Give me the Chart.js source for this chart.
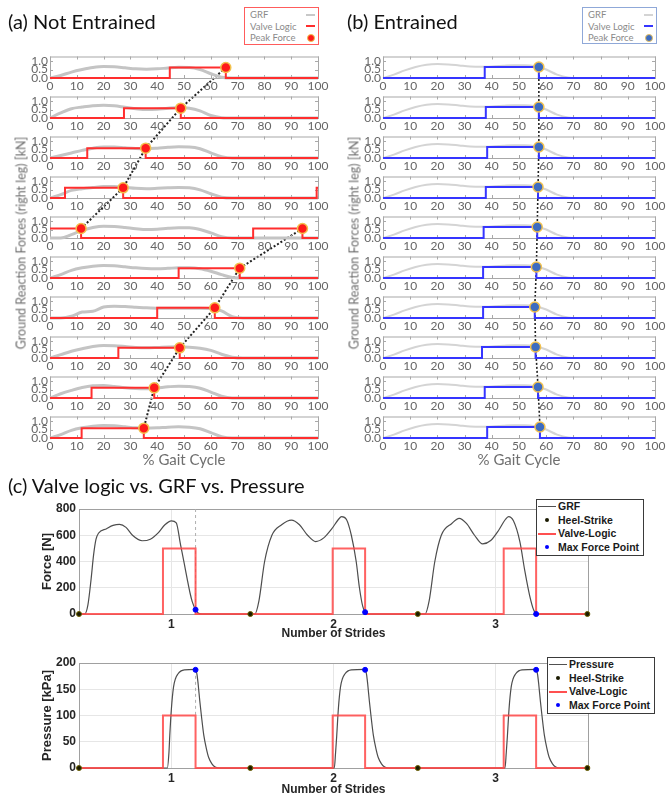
<!DOCTYPE html>
<html lang="en">
<head>
<meta charset="utf-8">
<title>Valve logic vs GRF vs Pressure</title>
<script src="https://cdn.jsdelivr.net/npm/chart.js@4.4.1/dist/chart.umd.min.js"></script>
<style>
  body { margin:0; width:667px; height:797px; position:relative; overflow:hidden; background:#fff; font-family:Lato, sans-serif; }
  canvas { position:absolute; }
  .txt { position:absolute; white-space:nowrap; }
  .titulo { font-family:Lato, sans-serif; font-size:20px; color:#111; }
  .ylab { color:#6f6f6f; font-size:12.5px; transform:translate(-50%,-50%) rotate(-90deg); }
  .xlab { color:#6f6f6f; font-size:15px; transform:translate(-50%,-50%); }
  .ley { position:absolute; z-index:5; background:#fff; box-sizing:border-box; font-size:9.5px; color:#8a8a8a; line-height:11.5px; padding:1px 3px 0 5px; }
  .ley div { display:flex; justify-content:space-between; align-items:center; }
  .lin { display:inline-block; width:9px; height:2px; }
  .pto { display:inline-block; width:8px; height:8px; border-radius:50%; box-sizing:border-box; }
  .leyC { position:absolute; z-index:5; background:#fff; border:1px solid #3a3a3a; box-sizing:border-box; font:bold 10.5px "Liberation Sans", Arial, sans-serif; color:#1a1a1a; line-height:13.5px; padding:0 4px 0 0; white-space:nowrap; }
  .leyC div { display:flex; align-items:center; }
  .sim { display:inline-flex; width:20px; height:13px; justify-content:center; align-items:center; margin-right:1px; }
  .sim .l { display:block; width:18px; }
  .sim .p { display:block; width:4px; height:4px; border-radius:50%; }
</style>
</head>
<body>
<canvas id="union" width="667" height="797" style="left:0;top:0"></canvas>

<div class="txt titulo" style="left:8px;top:9px">(a) Not Entrained</div>
<div class="txt titulo" style="left:347px;top:9px">(b) Entrained</div>
<div class="txt titulo" style="left:8px;top:473px">(c) Valve logic vs. GRF vs. Pressure</div>

<div class="txt ylab" style="left:21px;top:243px">Ground Reaction Forces (right leg) [kN]</div>
<div class="txt ylab" style="left:354px;top:243px">Ground Reaction Forces (right leg) [kN]</div>
<div class="txt xlab" style="left:184px;top:459px">% Gait Cycle</div>
<div class="txt xlab" style="left:519px;top:459px">% Gait Cycle</div>

<div class="ley" style="left:244px;top:7px;width:75px;height:38px;border:1.5px solid #ff5c5c">
  <div><span>GRF</span><span class="lin" style="background:#c8c8c8"></span></div>
  <div><span>Valve Logic</span><span class="lin" style="background:#ff2e2e"></span></div>
  <div><span>Peak Force</span><span class="pto" style="background:#ff1a1a;border:1px solid #f2c14e"></span></div>
</div>
<div class="ley" style="left:582px;top:7px;width:75px;height:37px;border:1.5px solid #8fa8d8">
  <div><span>GRF</span><span class="lin" style="background:#d4d4d4"></span></div>
  <div><span>Valve Logic</span><span class="lin" style="background:#3535ff"></span></div>
  <div><span>Peak Force</span><span class="pto" style="background:#3d6cc0;border:1px solid #e8c060"></span></div>
</div>

<div class="leyC" style="left:536px;top:499px;height:57px">
  <div><span class="sim"><i class="l" style="background:#505050;height:1px"></i></span>GRF</div>
  <div><span class="sim"><i class="p" style="background:#1a1a00"></i></span>Heel-Strike</div>
  <div><span class="sim"><i class="l" style="background:#ff5050;height:2px"></i></span>Valve-Logic</div>
  <div><span class="sim"><i class="p" style="background:#0000ff"></i></span>Max Force Point</div>
</div>
<div class="leyC" style="left:547px;top:657px;height:57px">
  <div><span class="sim"><i class="l" style="background:#505050;height:1px"></i></span>Pressure</div>
  <div><span class="sim"><i class="p" style="background:#1a1a00"></i></span>Heel-Strike</div>
  <div><span class="sim"><i class="l" style="background:#ff5050;height:2px"></i></span>Valve-Logic</div>
  <div><span class="sim"><i class="p" style="background:#0000ff"></i></span>Max Force Point</div>
</div>

<script>
// ---------------- datos de las gráficas pequeñas (% ciclo de marcha) ----------------
const gaitTicks = [0, 10, 20, 30, 40, 50, 60, 70, 80, 90, 100];
const smallYTicks = [0, 0.5, 1.0];
const grfPct = [0, 4, 8, 12, 16, 20, 24, 28, 32, 36, 40, 44, 48, 52, 56, 60, 64, 68, 72, 100];

// (a) Not Entrained - GRF de cada zancada [kN]
const grfA1 = [0, 0.15, 0.35, 0.5, 0.62, 0.68, 0.66, 0.6, 0.54, 0.52, 0.54, 0.59, 0.63, 0.62, 0.5, 0.25, 0.05, 0, 0, 0];
const grfA2 = [0, 0.3, 0.55, 0.65, 0.73, 0.75, 0.72, 0.63, 0.55, 0.5, 0.52, 0.58, 0.62, 0.58, 0.42, 0.15, 0.02, 0, 0, 0];
const grfA3 = [0, 0.15, 0.3, 0.45, 0.58, 0.65, 0.65, 0.6, 0.56, 0.55, 0.58, 0.63, 0.66, 0.65, 0.55, 0.3, 0.08, 0, 0, 0];
const grfA4 = [0, 0.2, 0.45, 0.55, 0.62, 0.68, 0.68, 0.63, 0.57, 0.55, 0.57, 0.6, 0.62, 0.6, 0.48, 0.25, 0.05, 0, 0, 0];
const grfA5 = [0, 0, 0.2, 0.45, 0.62, 0.7, 0.68, 0.62, 0.55, 0.5, 0.52, 0.57, 0.6, 0.6, 0.5, 0.3, 0.08, 0, 0, 0];
const grfA6 = [0, 0.2, 0.45, 0.6, 0.7, 0.74, 0.72, 0.66, 0.6, 0.56, 0.55, 0.57, 0.6, 0.6, 0.55, 0.4, 0.2, 0.03, 0, 0];
const grfA7 = [0, 0, 0.1, 0.35, 0.4, 0.65, 0.7, 0.68, 0.64, 0.6, 0.58, 0.57, 0.57, 0.57, 0.57, 0.56, 0.42, 0.08, 0, 0];
const grfA8 = [0, 0.2, 0.4, 0.55, 0.68, 0.74, 0.73, 0.68, 0.62, 0.6, 0.62, 0.65, 0.66, 0.64, 0.58, 0.45, 0.22, 0.05, 0, 0];
const grfA9 = [0, 0.25, 0.45, 0.62, 0.72, 0.74, 0.68, 0.6, 0.56, 0.55, 0.6, 0.66, 0.7, 0.68, 0.58, 0.35, 0.1, 0, 0, 0];
const grfA10 = [0, 0.2, 0.45, 0.6, 0.7, 0.74, 0.72, 0.66, 0.6, 0.58, 0.6, 0.64, 0.66, 0.64, 0.55, 0.32, 0.08, 0, 0, 0];
// tramos [inicio, fin] en que la válvula está abierta
const valveA = [
  [[44.7, 65.6]], [[27.6, 48.8]], [[13.9, 35.7]], [[5.6, 27.3], [99.5, 100]], [[0, 11.6], [75.8, 94.2]],
  [[48, 70.8]], [[40, 61.5]], [[25.5, 48.4]], [[15.5, 38.9]], [[11.8, 35]]
];
const levelA = [0.62, 0.58, 0.58, 0.6, 0.56, 0.58, 0.6, 0.6, 0.6, 0.58];
const peakA = [[65.6], [48.8], [35.7], [27.3], [11.6, 94.2], [70.8], [61.5], [48.4], [38.9], [35]];
// orden en que la línea punteada une los picos: [fila, punto]
const cadenaA = [[[0, 0], [1, 0], [2, 0], [3, 0], [4, 0]], [[4, 1], [5, 0], [6, 0], [7, 0], [8, 0], [9, 0]]];

// (b) Entrained
const grfB = [0, 0.2, 0.45, 0.65, 0.78, 0.82, 0.8, 0.74, 0.68, 0.66, 0.68, 0.72, 0.76, 0.76, 0.7, 0.5, 0.2, 0.03, 0, 0];
const valveOnB = [37.4, 37.8, 38.3, 37.8, 37, 36.8, 36.8, 36.4, 37.4, 38.3];
const valveOffB = [57.3, 57.3, 57.3, 57, 56.7, 56.4, 55.8, 56.1, 57, 57.7];
const levelB = 0.65;

// ---------------- datos de (c) ----------------
const strideTicks = [1, 2, 3];
const forceTicks = [0, 200, 400, 600, 800];
const pressureTicks = [0, 50, 100, 150, 200];
const forceX = [0.43, 0.465, 0.485, 0.505, 0.52, 0.535, 0.55, 0.6, 0.64, 0.68, 0.72, 0.76, 0.82, 0.87, 0.92, 0.96, 1.0, 1.03, 1.056, 1.08, 1.097, 1.115, 1.128, 1.149, 1.165, 1.19,
  1.515, 1.54, 1.575, 1.62, 1.68, 1.74, 1.79, 1.84, 1.89, 1.94, 1.99, 2.03, 2.05, 2.08, 2.11, 2.14, 2.16, 2.18, 2.195, 2.22,
  2.565, 2.59, 2.625, 2.665, 2.73, 2.775, 2.82, 2.87, 2.92, 2.97, 3.02, 3.06, 3.08, 3.11, 3.15, 3.18, 3.21, 3.235, 3.255, 3.57];
const forceY = [0, 0, 70, 270, 450, 570, 615, 650, 675, 683, 660, 600, 558, 570, 620, 680, 710, 695, 530, 380, 270, 160, 96, 33, 8, 0,
  0, 100, 400, 600, 680, 715, 680, 600, 552, 580, 650, 720, 742, 720, 600, 400, 200, 60, 15, 0,
  0, 100, 400, 600, 690, 729, 690, 600, 534, 560, 640, 720, 742, 710, 550, 330, 140, 30, 0, 0];
const pressureX = [0.43, 0.975, 0.985, 0.99, 1.0, 1.013, 1.025, 1.04, 1.06, 1.08, 1.149, 1.158, 1.165, 1.175, 1.185, 1.2, 1.215, 1.23, 1.25, 1.27, 1.3,
  2.005, 2.013, 2.02, 2.03, 2.043, 2.055, 2.07, 2.09, 2.11, 2.195, 2.204, 2.211, 2.221, 2.231, 2.246, 2.261, 2.276, 2.296, 2.316, 2.346,
  3.058, 3.066, 3.073, 3.083, 3.096, 3.108, 3.123, 3.143, 3.163, 3.25, 3.259, 3.266, 3.276, 3.286, 3.301, 3.316, 3.331, 3.351, 3.371, 3.401, 3.57];
const pressureY = [0, 0, 30, 62, 113, 154, 170, 179, 185, 187, 188, 178, 160, 128, 100, 62, 38, 20, 8, 2, 0,
  0, 30, 62, 113, 154, 170, 179, 185, 187, 188, 178, 160, 128, 100, 62, 38, 20, 8, 2, 0,
  0, 30, 62, 113, 154, 170, 179, 185, 187, 188, 178, 160, 128, 100, 62, 38, 20, 8, 2, 0, 0];
const heelX = [0.43, 1.487, 2.52, 3.566];
const valveOnC = [0.948, 1.995, 3.05];
const valveOffC = [1.149, 2.195, 3.25];
const maxX = [1.149, 2.195, 3.25];
const maxForce = [33, 14, 0];
const maxPressure = [187, 187, 187];
const xMinC = 0.43, xMaxC = 3.57;

Chart.defaults.font.family = "Lato, sans-serif";

// marco tipo MATLAB alrededor del área de la gráfica
const marco = {
  id: "marco",
  beforeDatasetsDraw(chart, args, opts) {
    const { ctx, chartArea: a, scales } = chart;
    ctx.save();
    ctx.strokeStyle = opts.color;
    ctx.lineWidth = 1;
    ctx.strokeRect(a.left + 0.5, a.top + 0.5, a.right - a.left, a.bottom - a.top);
    if (opts.ticks) {
      ctx.beginPath();
      scales.x.ticks.forEach((t) => {
        const px = Math.round(scales.x.getPixelForValue(t.value)) + 0.5;
        ctx.moveTo(px, a.bottom); ctx.lineTo(px, a.bottom - 3);
        ctx.moveTo(px, a.top); ctx.lineTo(px, a.top + 3);
      });
      scales.y.ticks.forEach((t) => {
        const py = Math.round(scales.y.getPixelForValue(t.value)) + 0.5;
        ctx.moveTo(a.left, py); ctx.lineTo(a.left + 3, py);
        ctx.moveTo(a.right, py); ctx.lineTo(a.right - 3, py);
      });
      ctx.stroke();
    }
    ctx.restore();
  }
};

function lienzo(left, top, w, h) {
  const cv = document.createElement("canvas");
  cv.width = w; cv.height = h;
  cv.style.left = left + "px";
  cv.style.top = top + "px";
  document.body.appendChild(cv);
  return cv;
}

// puntos escalonados de la válvula a partir de los tramos abiertos
function pasosValvula(tramos, nivel) {
  const pts = [];
  if (tramos[0][0] > 0) pts.push({ x: 0, y: 0 });
  tramos.forEach(([a, b]) => {
    pts.push({ x: a, y: nivel });
    if (b < 100) pts.push({ x: b, y: 0 });
  });
  const last = tramos[tramos.length - 1];
  pts.push({ x: 100, y: last[1] >= 100 ? nivel : 0 });
  return pts;
}

function graficaPequena(cv, yWidth, padRight, grf, grfColor, grfWidth, valvePts, peaks, color, fill) {
  return new Chart(cv, {
    type: "line",
    data: {
      datasets: [
        { label: "Peak Force", data: peaks, showLine: false, pointRadius: 5, pointBackgroundColor: fill,
          pointBorderColor: "#f2c14e", pointBorderWidth: 1.5, order: 0, clip: 8 },
        { label: "Valve Logic", data: valvePts, stepped: true, borderColor: color, borderWidth: 2,
          pointRadius: 0, order: 1, clip: 3 },
        { label: "GRF", data: grfPct.map((x, i) => ({ x, y: grf[i] })), borderColor: grfColor, borderWidth: grfWidth,
          pointRadius: 0, cubicInterpolationMode: "monotone", order: 2, clip: 3 }
      ]
    },
    options: {
      responsive: false, animation: false, devicePixelRatio: 1, events: [],
      layout: { padding: { top: 3, right: padRight, left: 0, bottom: 0 } },
      plugins: { legend: { display: false }, tooltip: { enabled: false }, marco: { color: "#a8a8a8", ticks: true } },
      scales: {
        x: {
          type: "linear", min: 0, max: 100,
          afterBuildTicks: (s) => { s.ticks = gaitTicks.map((v) => ({ value: v })); },
          ticks: { color: "#666", font: { size: 12 }, padding: 1, maxRotation: 0, autoSkip: false },
          grid: { display: false, drawTicks: false }, border: { display: false },
          afterFit: (s) => { s.height = 14; s.paddingLeft = 0; s.paddingRight = 0; }
        },
        y: {
          min: 0, max: 1.27,
          afterBuildTicks: (s) => { s.ticks = smallYTicks.map((v) => ({ value: v })); },
          ticks: { color: "#666", font: { size: 12 }, padding: 2, autoSkip: false, callback: (v) => Number(v).toFixed(1) },
          grid: { display: false, drawTicks: false }, border: { display: false },
          afterFit: (s) => { s.width = yWidth; s.paddingTop = 0; s.paddingBottom = 0; }
        }
      }
    },
    plugins: [marco]
  });
}

const grfA = [grfA1, grfA2, grfA3, grfA4, grfA5, grfA6, grfA7, grfA8, grfA9, grfA10];
const chartsA = [];
const chartsB = [];
for (let i = 0; i < 10; i++) {
  const top = 50 + i * 40;
  const pA = peakA[i].map((x) => ({ x, y: levelA[i] }));
  chartsA.push(graficaPequena(lienzo(0, top, 340, 42), 50, 22, grfA[i], "#c4c4c4", 3,
    pasosValvula(valveA[i], levelA[i]), pA, "#ff2e2e", "#ff1a1a"));
  const pB = [{ x: valveOffB[i], y: levelB }];
  chartsB.push(graficaPequena(lienzo(330, top, 337, 42), 53, 12, grfB, "#d4d4d4", 2,
    pasosValvula([[valveOnB[i], valveOffB[i]]], levelB), pB, "#3535ff", "#3d6cc0"));
}

// línea punteada que une los picos de fuerza, tomada de las posiciones de cada gráfica
const uctx = document.getElementById("union").getContext("2d");
function unir(charts, cadenas, ancho) {
  uctx.save();
  uctx.strokeStyle = "#222";
  uctx.lineWidth = ancho;
  uctx.setLineDash([2, 2]);
  cadenas.forEach((cad) => {
    uctx.beginPath();
    cad.forEach(([fila, k], j) => {
      const ch = charts[fila];
      const p = ch.getDatasetMeta(0).data[k];
      const x = ch.canvas.offsetLeft + p.x;
      const y = ch.canvas.offsetTop + p.y;
      if (j === 0) uctx.moveTo(x, y); else uctx.lineTo(x, y);
    });
    uctx.stroke();
  });
  uctx.restore();
}
unir(chartsA, cadenaA, 2);
unir(chartsB, [chartsB.map((c, i) => [i, 0])], 1.6);

// ---------------- (c) ----------------
function pasosC(alto) {
  const pts = [{ x: xMinC, y: 0 }];
  valveOnC.forEach((a, i) => {
    pts.push({ x: a, y: alto });
    pts.push({ x: valveOffC[i], y: 0 });
  });
  pts.push({ x: xMaxC, y: 0 });
  return pts;
}

function graficaC(cv, xs, ys, maxY, ticksY, yTitle, valveHigh, guia, titlePadBottom) {
  return new Chart(cv, {
    type: "line",
    data: {
      datasets: [
        { label: "Heel-Strike", data: heelX.map((x) => ({ x, y: 0 })), showLine: false, pointRadius: 2.5,
          pointBackgroundColor: "#1a1a00", pointBorderColor: "#6b6000", pointBorderWidth: 1, order: 0, clip: 5 },
        { label: "Max Force Point", data: maxX.map((x, i) => ({ x, y: maxY[i] })), showLine: false, pointRadius: 2.5,
          pointBackgroundColor: "#0000ff", pointBorderColor: "#0000ff", order: 0, clip: 5 },
        { label: "Valve-Logic", data: pasosC(valveHigh), stepped: true, borderColor: "rgba(255,70,70,0.85)",
          borderWidth: 2, pointRadius: 0, order: 1, clip: 3 },
        { label: yTitle, data: xs.map((x, i) => ({ x, y: ys[i] })), borderColor: "#4d4d4d", borderWidth: 1.2,
          pointRadius: 0, cubicInterpolationMode: "monotone", order: 2, clip: 3 },
        { label: "guia", data: guia, borderColor: "#b0b0b0", borderWidth: 1, borderDash: [3, 3],
          pointRadius: 0, order: 3 }
      ]
    },
    options: {
      responsive: false, animation: false, devicePixelRatio: 1, events: [],
      layout: { padding: { top: 14, right: 79, left: 0, bottom: 0 } },
      plugins: { legend: { display: false }, tooltip: { enabled: false }, marco: { color: "#a0a0a0", ticks: false } },
      scales: {
        x: {
          type: "linear", min: xMinC, max: xMaxC,
          afterBuildTicks: (s) => { s.ticks = strideTicks.map((v) => ({ value: v })); },
          ticks: { color: "#262626", font: { family: "Liberation Sans", weight: "bold", size: 12 }, padding: 3, maxRotation: 0, autoSkip: false },
          grid: { color: "#e6e6e6", drawTicks: false }, border: { display: false },
          title: { display: true, text: "Number of Strides", color: "#262626",
            font: { family: "Liberation Sans", weight: "bold", size: 12 }, padding: { top: 0, bottom: titlePadBottom } },
          afterFit: (s) => { s.height = cv.height - 14 - 105; s.paddingLeft = 0; s.paddingRight = 0; }
        },
        y: {
          min: 0, max: ticksY[ticksY.length - 1],
          afterBuildTicks: (s) => { s.ticks = ticksY.map((v) => ({ value: v })); },
          ticks: { color: "#262626", font: { family: "Liberation Sans", weight: "bold", size: 12 }, padding: 3, autoSkip: false },
          grid: { color: "#e6e6e6", drawTicks: false }, border: { display: false },
          title: { display: true, text: yTitle === "GRF" ? "Force [N]" : "Pressure [kPa]", color: "#262626",
            font: { family: "Liberation Sans", weight: "bold", size: 13 }, padding: { top: 40, bottom: 0 } },
          afterFit: (s) => { s.width = 79; s.paddingTop = 0; s.paddingBottom = 0; }
        }
      }
    },
    plugins: [marco]
  });
}

graficaC(lienzo(0, 495, 667, 150), forceX, forceY, maxForce, forceTicks, "GRF", 500,
  [{ x: maxX[0], y: 800 }, { x: maxX[0], y: maxForce[0] }], 4);
graficaC(lienzo(0, 649, 667, 148), pressureX, pressureY, maxPressure, pressureTicks, "Pressure", 100,
  [{ x: maxX[0], y: maxPressure[0] }, { x: maxX[0], y: 100 }], 0);
</script>
</body>
</html>
